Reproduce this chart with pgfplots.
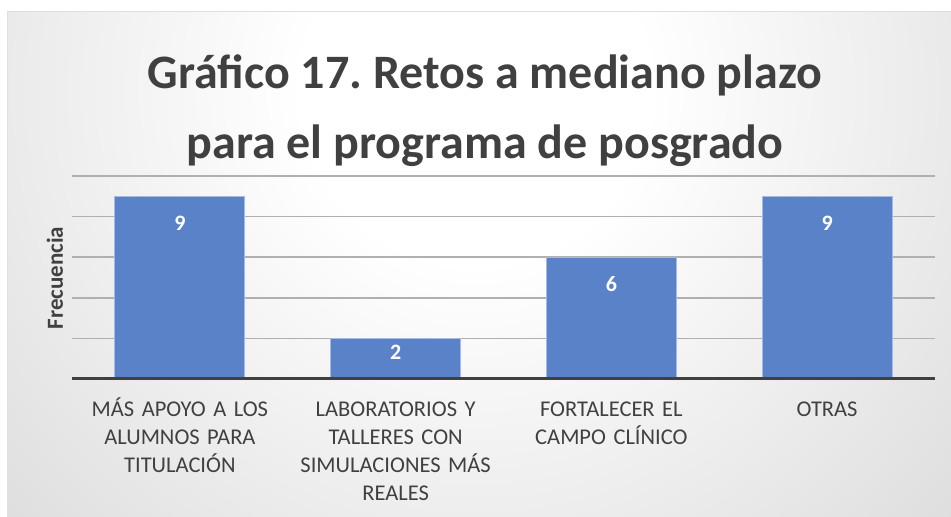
\documentclass[border=0pt]{standalone}
\usepackage{pgfplots}
\pgfplotsset{compat=1.18}
\usepackage{fontspec}
\setmainfont{Carlito}
\frenchspacing
\definecolor{barblue}{HTML}{5A82C8}
\definecolor{txt}{HTML}{404040}
\definecolor{gridc}{HTML}{B0B0B0}
\pgfdeclareradialshading{bgshade}{\pgfpoint{0bp}{0bp}}{color(0bp)=(white); color(8bp)=(white); color(50bp)=(black!25)}
\pgfplotstableread{
x y s
0 9 -27
1 2 -14
2 6 -27
3 9 -27
}\datatab
\begin{document}
\begin{tikzpicture}
\useasboundingbox (0,0) rectangle (951pt,-517pt);
\fill[white] (0,0) rectangle (951pt,-517pt);
\begin{scope}
\clip (7pt,-11pt) rectangle (951pt,-517pt);
\shade[shading=bgshade] (-65pt,450pt) rectangle (1015pt,-630pt);
\end{scope}
\draw[black!12, line width=1pt] (7pt,-11pt) -- (951pt,-11pt);
\draw[black!12, line width=1pt] (7pt,-11pt) -- (7pt,-517pt);
\node[font=\bfseries\fontsize{48}{70}\selectfont, text=txt, align=center] at (485pt,-111pt) {Gráfico 17. Retos a mediano plazo\\para el programa de posgrado};
\node[rotate=90, font=\bfseries\fontsize{23}{27}\selectfont, text=txt] at (55pt,-278pt) {Frecuencia};
\begin{axis}[
  at={(72pt,-379pt)}, anchor=south west,
  width=863pt, height=203pt, scale only axis,
  xmin=-0.5, xmax=3.5, ymin=0, ymax=10,
  ytick={2,4,6,8,10}, yticklabels={},
  ymajorgrids, grid style={gridc, line width=1.5pt},
  axis line style={draw=none},
  major tick length=0pt,
  xtick={0,1,2,3},
  xticklabels={{MÁS APOYO A LOS\\ALUMNOS PARA\\TITULACIÓN},{\vphantom{Á}LABORATORIOS Y\\TALLERES CON\\SIMULACIONES MÁS\\REALES},{\vphantom{Á}FORTALECER EL\\CAMPO CLÍNICO},{\vphantom{Á}OTRAS}},
  xticklabel style={align=center, text width=220pt, font=\fontsize{22.5}{28}\selectfont, text=txt, anchor=north, yshift=-15pt},
  ybar, bar width=130pt, bar shift=0pt,
  nodes near coords,
  /pgf/number format/assume math mode=true,
  visualization depends on={\thisrow{s} \as \lblshift},
  every node near coord/.append style={text=white, font=\bfseries\fontsize{22}{26}\selectfont, anchor=center, yshift=\lblshift pt},
]
\addplot[fill=barblue, draw=barblue!55!white, line width=0.8pt] table[x=x, y=y] {\datatab};
\draw[line width=3.5pt, txt] (axis cs:-0.5,0) -- (axis cs:3.5,0);
\end{axis}
\end{tikzpicture}
\end{document}
